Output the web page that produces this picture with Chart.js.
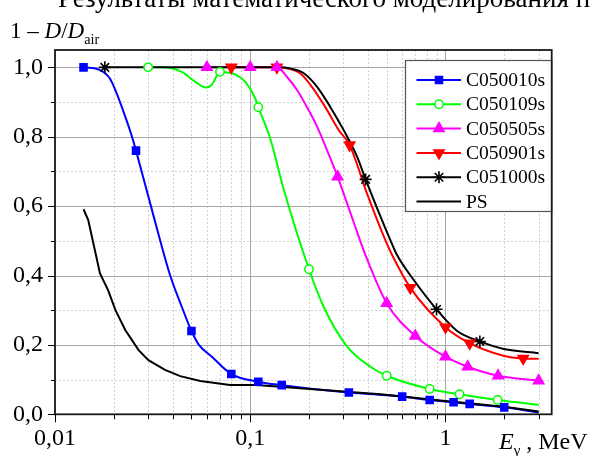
<!DOCTYPE html>
<html>
<head>
<meta charset="utf-8">
<script src="https://cdn.jsdelivr.net/npm/chart.js@4.4.1/dist/chart.umd.min.js"></script>
<style>
  html, body { margin: 0; padding: 0; background: #fff; }
  #wrap { position: relative; width: 592px; height: 456px; overflow: hidden; font-family: "Liberation Serif", "Times New Roman", serif; }
  #chart { position: absolute; left: 0; top: 0; }
  .txt { position: absolute; white-space: nowrap; color: #000; line-height: 1; }
  .txt sub { font-size: 0.62em; vertical-align: -0.4em; }
  #err { position: absolute; left: 60px; top: 230px; font: 10px monospace; color: #c00; white-space: pre; }
</style>
</head>
<body>
<div id="wrap">
  <canvas id="chart" width="592" height="456"></canvas>
  <div class="txt" id="page-text" style="left:58px; top:-15.5px; font-size:27px;">Результаты математического моделирования п</div>
  <div class="txt" id="y-title" style="left:10px; top:19px; font-size:23px;">1 – <i>D</i>/<i>D</i><sub>air</sub></div>
  <div class="txt" id="x-title" style="left:499px; top:429px; font-size:24px;"><i>E</i><sub>γ</sub> , MeV</div>
  <div id="err"></div>
</div>
<script>
// axis ticks
const xTicks = [0.01, 0.02, 0.03, 0.04, 0.05, 0.06, 0.07, 0.08, 0.09,
                0.1, 0.2, 0.3, 0.4, 0.5, 0.6, 0.7, 0.8, 0.9, 1, 2, 3];
const xMajor = [0.01, 0.1, 1];
const xLabels = ['0,01', '0,1', '1'];
const yTicks = [0, 0.1, 0.2, 0.3, 0.4, 0.5, 0.6, 0.7, 0.8, 0.9, 1.0];
const yLabels = ['0,0', '', '0,2', '', '0,4', '', '0,6', '', '0,8', '', '1,0'];

const seriesNames = ['C050010s', 'C050109s', 'C050505s', 'C050901s', 'C051000s', 'PS'];

// C050010s (blue, squares)
const blueE = [0.014, 0.017, 0.0191, 0.0207, 0.0229, 0.0248, 0.026, 0.031, 0.0346, 0.0389, 0.0446, 0.05, 0.0546, 0.0636, 0.08, 0.11, 0.145, 0.32, 0.6, 0.83, 1.1, 1.33, 2.0, 3.0];
const blueV = [1.0, 0.992, 0.968, 0.925, 0.858, 0.80, 0.76, 0.60, 0.50, 0.40, 0.31, 0.24, 0.20, 0.166, 0.116, 0.094, 0.084, 0.063, 0.051, 0.041, 0.0345, 0.030, 0.020, 0.005];
const blueMarkE = [0.014, 0.026, 0.05, 0.08, 0.11, 0.145, 0.32, 0.6, 0.83, 1.1, 1.33, 2.0];
const blueMarkV = [1.0, 0.76, 0.24, 0.116, 0.094, 0.084, 0.063, 0.051, 0.041, 0.0345, 0.030, 0.020];

// C050109s (green, open circles)
const greenE = [0.03, 0.035, 0.0446, 0.0524, 0.0593, 0.0636, 0.07, 0.0744, 0.0838, 0.0944, 0.106, 0.11, 0.1266, 0.148, 0.2, 0.2377, 0.3135, 0.413, 0.5, 0.83, 1.18, 1.85, 3.0];
const greenV = [1.0, 1.0, 0.987, 0.958, 0.942, 0.95, 0.987, 0.986, 0.98, 0.958, 0.911, 0.885, 0.795, 0.651, 0.418, 0.31, 0.195, 0.137, 0.111, 0.073, 0.0576, 0.041, 0.027];
const greenMarkE = [0.03, 0.07, 0.11, 0.2, 0.5, 0.83, 1.18, 1.85];
const greenMarkV = [1.0, 0.987, 0.885, 0.418, 0.111, 0.073, 0.0576, 0.041];

// C050505s (magenta, triangles)
const magE = [0.06, 0.1, 0.137, 0.154, 0.174, 0.195, 0.22, 0.247, 0.28, 0.338, 0.389, 0.5, 0.7, 1.0, 1.3, 1.86, 3.0];
const magV = [1.0, 1.0, 1.0, 0.973, 0.934, 0.886, 0.829, 0.762, 0.685, 0.555, 0.459, 0.32, 0.226, 0.166, 0.137, 0.111, 0.097];
const magMarkE = [0.06, 0.1, 0.137, 0.28, 0.5, 0.7, 1.0, 1.3, 1.86, 3.0];
const magMarkV = [1.0, 1.0, 1.0, 0.685, 0.32, 0.226, 0.166, 0.137, 0.111, 0.097];

// C050901s (red, down triangles)
const redE = [0.08, 0.137, 0.16, 0.18, 0.207, 0.242, 0.284, 0.323, 0.40, 0.492, 0.533, 0.66, 1.0, 1.33, 2.0, 2.5, 3.0];
const redV = [1.0, 1.0, 0.995, 0.983, 0.944, 0.886, 0.819, 0.776, 0.63, 0.502, 0.459, 0.365, 0.251, 0.205, 0.168, 0.161, 0.16];
const redMarkE = [0.08, 0.137, 0.323, 0.66, 1.0, 1.33, 2.5];
const redMarkV = [1.0, 1.0, 0.776, 0.365, 0.251, 0.205, 0.161];

// C051000s (black, stars)
const blackE = [0.018, 0.1, 0.14, 0.16, 0.188, 0.22, 0.257, 0.301, 0.353, 0.39, 0.522, 0.565, 0.688, 0.9, 1.148, 1.5, 1.99, 3.0];
const blackV = [1.0, 1.0, 1.0, 0.997, 0.983, 0.944, 0.886, 0.819, 0.742, 0.677, 0.502, 0.459, 0.387, 0.3026, 0.24, 0.21, 0.188, 0.176];
const blackMarkE = [0.018, 0.39, 0.9, 1.5];
const blackMarkV = [1.0, 0.677, 0.3026, 0.21];

// PS (black line, no markers)
const psE = [0.014, 0.0148, 0.017, 0.0187, 0.0204, 0.0229, 0.0268, 0.0301, 0.0366, 0.0438, 0.0555, 0.0788, 0.1065, 0.1424, 0.3, 0.464, 1.0, 2.0, 3.0];
const psV = [0.591, 0.56, 0.406, 0.358, 0.30, 0.243, 0.185, 0.156, 0.128, 0.110, 0.096, 0.0844, 0.0844, 0.0796, 0.066, 0.0576, 0.038, 0.022, 0.008];

const pts = (xs, ys) => xs.map((v, i) => ({ x: v, y: ys[i] }));

const styles = [
    { color: '#0000ff', pointStyle: 'rect', rotation: 0, radius: 5, fill: '#0000ff' },
    { color: '#00ff00', pointStyle: 'circle', rotation: 0, radius: 4.2, fill: '#ffffff' },
    { color: '#ff00ff', pointStyle: 'triangle', rotation: 0, radius: 6, fill: '#ff00ff' },
    { color: '#ff0000', pointStyle: 'triangle', rotation: 180, radius: 6, fill: '#ff0000' },
    { color: '#000000', pointStyle: 'star', rotation: 0, radius: 6, fill: '#000000' },
    { color: '#000000', pointStyle: null, rotation: 0, radius: 0, fill: '#000000' }
];

const errors = [];
function guard(name, fn) {
    try { fn(); } catch (e) {
        errors.push(name + ': ' + e.message);
        document.getElementById('err').textContent = errors.join('\n');
    }
}

function lineSet(i, data, smooth, order) {
    return {
        label: seriesNames[i],
        data: data,
        borderColor: styles[i].color,
        borderWidth: 2,
        pointRadius: 0,
        fill: false,
        tension: 0,
        cubicInterpolationMode: smooth ? 'monotone' : 'default',
        order: order
    };
}

function markSet(i, data) {
    const s = styles[i];
    return {
        label: seriesNames[i] + ' markers',
        data: data,
        showLine: false,
        borderColor: s.color,
        backgroundColor: s.fill,
        pointStyle: s.pointStyle,
        rotation: s.rotation,
        pointRadius: s.radius,
        pointBorderWidth: i === 4 ? 1.6 : 1.5,
        order: 0
    };
}

function tickPixels(chart) {
    const sx = chart.scales.x;
    const sy = chart.scales.y;
    return {
        xs: xTicks.map(v => ({ p: Math.round(sx.getPixelForValue(v)) + 0.5, major: xMajor.includes(v) })),
        ys: yTicks.map((v, i) => ({ p: Math.round(sy.getPixelForValue(v)) + 0.5, major: i % 2 === 0 }))
    };
}

const decor = {
    id: 'decor',
    beforeDatasetsDraw(chart) {
        guard('grid', () => {
            const ctx = chart.ctx;
            const a = chart.chartArea;
            const { xs, ys } = tickPixels(chart);
            ctx.save();
            ctx.lineWidth = 1;
            [false, true].forEach(major => {
                ctx.strokeStyle = major ? '#a8a8a8' : '#d0d0d0';
                ctx.setLineDash(major ? [] : [2, 2]);
                ctx.beginPath();
                xs.filter(g => g.major === major).forEach(g => { ctx.moveTo(g.p, a.top); ctx.lineTo(g.p, a.bottom); });
                ys.filter(g => g.major === major).forEach(g => { ctx.moveTo(a.left, g.p); ctx.lineTo(a.right, g.p); });
                ctx.stroke();
            });
            ctx.restore();
        });
    },
    afterDraw(chart) {
        const ctx = chart.ctx;
        const a = chart.chartArea;

        guard('legend', () => {
            const bx = 405.5, by = 60.5, bw = a.right - 405.5, bh = 151;
            ctx.save();
            ctx.setLineDash([]);
            ctx.fillStyle = '#fff';
            ctx.fillRect(bx, by, bw, bh);
            ctx.strokeStyle = '#555';
            ctx.lineWidth = 1.2;
            ctx.strokeRect(bx, by, bw, bh);
            ctx.font = '19.5px "Liberation Serif"';
            ctx.textBaseline = 'middle';
            ctx.textAlign = 'left';
            seriesNames.forEach((name, i) => {
                const s = styles[i];
                const ly = 80 + i * 24.3;
                ctx.strokeStyle = s.color;
                ctx.lineWidth = 2;
                ctx.beginPath();
                ctx.moveTo(416.5, ly);
                ctx.lineTo(461, ly);
                ctx.stroke();
                if (s.pointStyle) {
                    ctx.fillStyle = s.fill;
                    ctx.lineWidth = i === 4 ? 1.6 : 1.5;
                    Chart.helpers.drawPoint(ctx, {
                        pointStyle: s.pointStyle, rotation: s.rotation,
                        radius: s.radius, borderWidth: ctx.lineWidth
                    }, 439, ly);
                }
                ctx.fillStyle = '#000';
                ctx.fillText(name, 466, ly + 1);
            });
            ctx.restore();
        });

        guard('frame', () => {
            ctx.save();
            ctx.setLineDash([]);
            ctx.globalAlpha = 1;
            ctx.globalCompositeOperation = 'source-over';
            ctx.lineWidth = 1.8;
            ctx.strokeStyle = '#1a1a1a';
            ctx.strokeRect(a.left, a.top, a.right - a.left, a.bottom - a.top);
            ctx.restore();
        });

        guard('ticks', () => {
            const { xs, ys } = tickPixels(chart);
            ctx.save();
            ctx.setLineDash([]);
            ctx.strokeStyle = '#000';
            ctx.lineWidth = 1;
            ctx.beginPath();
            xs.forEach(g => { ctx.moveTo(g.p, a.bottom); ctx.lineTo(g.p, a.bottom + (g.major ? 8 : 5)); });
            ys.forEach(g => { ctx.moveTo(a.left, g.p); ctx.lineTo(a.left - (g.major ? 7 : 4), g.p); });
            ctx.stroke();
            ctx.restore();
        });
    }
};

guard('chart', () => {
    new Chart(document.getElementById('chart'), {
        type: 'line',
        data: {
            datasets: [
                markSet(0, pts(blueMarkE, blueMarkV)),
                markSet(1, pts(greenMarkE, greenMarkV)),
                markSet(2, pts(magMarkE, magMarkV)),
                markSet(3, pts(redMarkE, redMarkV)),
                markSet(4, pts(blackMarkE, blackMarkV)),
                lineSet(5, pts(psE, psV), false, 1),
                lineSet(4, pts(blackE, blackV), true, 2),
                lineSet(3, pts(redE, redV), true, 3),
                lineSet(2, pts(magE, magV), true, 4),
                lineSet(1, pts(greenE, greenV), true, 5),
                lineSet(0, pts(blueE, blueV), true, 6)
            ]
        },
        options: {
            responsive: false,
            animation: false,
            events: [],
            layout: { padding: { left: 0, top: 50, right: 40.3, bottom: 0 } },
            plugins: { legend: { display: false }, tooltip: { enabled: false } },
            scales: {
                x: {
                    type: 'logarithmic',
                    min: 0.01,
                    max: 3.5,
                    afterBuildTicks: s => { s.ticks = xTicks.map(v => ({ value: v })); },
                    afterFit: s => { s.height = 41.7; },
                    ticks: {
                        autoSkip: false,
                        maxRotation: 0,
                        padding: 10,
                        color: '#000',
                        font: { family: '"Liberation Serif"', size: 24 },
                        callback: v => {
                            const k = xMajor.indexOf(v);
                            return k >= 0 ? xLabels[k] : '';
                        }
                    },
                    grid: { display: false, drawTicks: false },
                    border: { display: false }
                },
                y: {
                    type: 'linear',
                    min: 0,
                    max: 1.05,
                    afterBuildTicks: s => { s.ticks = yTicks.map(v => ({ value: v })); },
                    afterFit: s => { s.width = 55; },
                    ticks: {
                        autoSkip: false,
                        padding: 12,
                        color: '#000',
                        font: { family: '"Liberation Serif"', size: 24 },
                        callback: (v, i) => yLabels[i]
                    },
                    grid: { display: false, drawTicks: false },
                    border: { display: false }
                }
            }
        },
        plugins: [decor]
    });
});
</script>
</body>
</html>
